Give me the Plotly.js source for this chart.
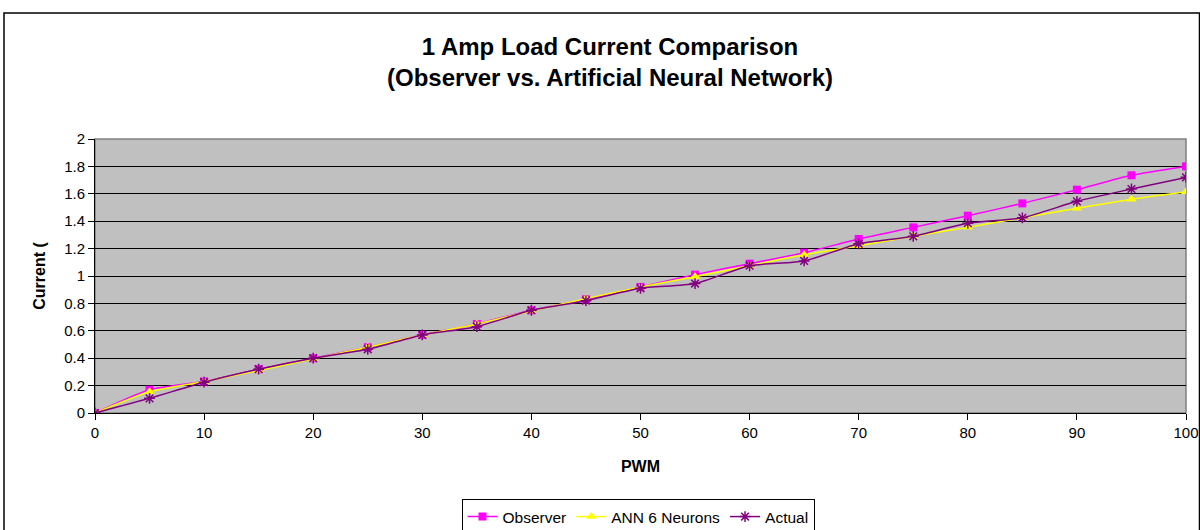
<!DOCTYPE html>
<html>
<head>
<meta charset="utf-8">
<script src="https://cdn.plot.ly/plotly-3.0.1.min.js"></script>
<style>
  html, body { margin: 0; padding: 0; background: #fff; }
  #chart { width: 1200px; height: 530px; }
</style>
</head>
<body>
<div id="chart"></div>
<script>
// ---- data ----
const pwm = [0, 5, 10, 15, 20, 25, 30, 35, 40, 45, 50, 55, 60, 65, 70, 75, 80, 85, 90, 95, 100];
const observer = [0, 0.17, 0.23, 0.32, 0.40, 0.48, 0.57, 0.65, 0.75, 0.83, 0.92, 1.01, 1.09, 1.17, 1.27, 1.355, 1.44, 1.53, 1.63, 1.735, 1.80];
const ann6 = [0, 0.155, 0.23, 0.31, 0.395, 0.48, 0.57, 0.65, 0.745, 0.835, 0.92, 0.995, 1.075, 1.155, 1.22, 1.29, 1.355, 1.425, 1.495, 1.56, 1.615];
const actual = [0, 0.107, 0.225, 0.32, 0.40, 0.465, 0.57, 0.63, 0.75, 0.82, 0.91, 0.945, 1.075, 1.11, 1.235, 1.29, 1.385, 1.425, 1.545, 1.635, 1.72];
const seriesNames = ["Observer", "ANN 6 Neurons", "Actual"];
const chartTitle = "1 Amp Load Current Comparison<br>(Observer vs. Artificial Neural Network)";
const xTitle = "PWM";
const yTitle = "Current (";

// ---- geometry helpers (pixel -> paper) ----
const W = 1200, H = 530;
const mL = 95, mR = 14, mT = 139, mB = 117;
const pw = W - mL - mR, ph = H - mT - mB;
const px = v => (v - mL) / pw;
const py = v => (H - mB - v) / ph;

const font = "Liberation Sans, Arial, sans-serif";

const traces = [
  {
    x: pwm, y: observer, name: seriesNames[0], type: "scatter", mode: "lines+markers",
    line: { color: "#FF00FF", width: 1.5, shape: "spline", smoothing: 0.6 },
    marker: { symbol: "square", size: 8, color: "#FF00FF" }
  },
  {
    x: pwm, y: ann6, name: seriesNames[1], type: "scatter", mode: "lines+markers",
    line: { color: "#FFFF00", width: 1.5, shape: "spline", smoothing: 0.6 },
    marker: { symbol: "triangle-up", size: 9, color: "#FFFF00" }
  },
  {
    x: pwm, y: actual, name: seriesNames[2], type: "scatter", mode: "lines+markers",
    line: { color: "#800080", width: 1.5, shape: "spline", smoothing: 0.6 },
    marker: { symbol: "asterisk-open", size: 9, color: "#800080", line: { color: "#800080", width: 1.5 } }
  }
];

const layout = {
  width: W, height: H,
  margin: { l: mL, r: mR, t: mT, b: mB, pad: 0, autoexpand: false },
  paper_bgcolor: "#FFFFFF",
  plot_bgcolor: "#C0C0C0",
  font: { family: font, color: "#000", size: 15 },
  title: {
    text: chartTitle,
    font: { family: font, size: 24, color: "#000", weight: "bold" },
    x: 610 / W, xanchor: "center", xref: "container",
    y: 1 - 55 / H, yanchor: "top", yref: "container"
  },
  xaxis: {
    range: [0, 100], dtick: 10, tick0: 0,
    showgrid: false, zeroline: false,
    showline: true, linecolor: "#000", linewidth: 1,
    ticks: "outside", ticklen: 6, tickcolor: "#000",
    tickfont: { family: font, size: 15 },
    title: { text: xTitle, font: { family: font, size: 16, weight: "bold" }, standoff: 20 }
  },
  yaxis: {
    range: [0, 2], dtick: 0.2, tick0: 0,
    showgrid: true, gridcolor: "#000", gridwidth: 1,
    zeroline: false,
    showline: true, linecolor: "#000", linewidth: 1,
    ticks: "outside", ticklen: 6, tickcolor: "#000",
    tickfont: { family: font, size: 15 },
    title: { text: yTitle, font: { family: font, size: 16, weight: "bold" }, standoff: 14 }
  },
  showlegend: true,
  legend: {
    orientation: "h",
    x: px(638), xanchor: "center",
    y: py(499), yanchor: "top",
    bgcolor: "#FFFFFF", bordercolor: "#000", borderwidth: 1,
    font: { family: font, size: 15.5 },
    itemwidth: 30, tracegroupgap: 0
  },
  shapes: [
    // plot area border (top/right grey)
    { type: "rect", xref: "paper", yref: "paper", x0: 0, x1: 1, y0: 0, y1: 1,
      line: { color: "#808080", width: 1.5 }, fillcolor: "rgba(0,0,0,0)", layer: "below" },
    // outer chart frame
    { type: "rect", xref: "paper", yref: "paper",
      x0: px(4), x1: px(1199.5), y0: py(545), y1: py(13),
      line: { color: "#000", width: 1.5 }, fillcolor: "rgba(0,0,0,0)", layer: "above" }
  ]
};

Plotly.newPlot("chart", traces, layout, { displayModeBar: false, staticPlot: true });
</script>
</body>
</html>
